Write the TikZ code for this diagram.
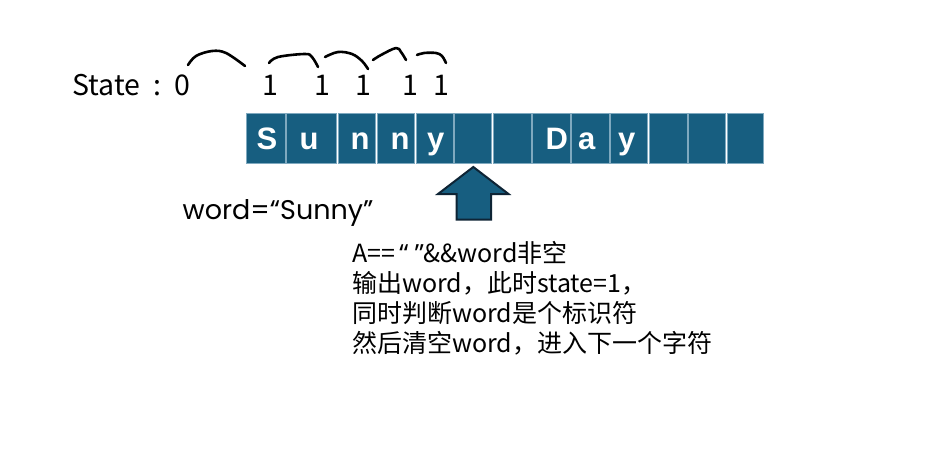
\documentclass[tikz,border=0pt]{standalone}
\usepackage{fontspec}
\newfontfamily\cjk{Noto Sans CJK SC}
\newfontfamily\latinsans{Noto Sans}
\newfontfamily\geo{Poppins}
\newfontfamily\cellfont{Liberation Sans}
\definecolor{cellblue}{HTML}{175E80}
\definecolor{celledge}{HTML}{7FA9BF}
\definecolor{arrowedge}{HTML}{0E2435}
\tikzset{
  cellbox/.style={fill=cellblue, draw=celledge, line width=0.8pt},
  celltxt/.style={anchor=base, text=white, inner sep=0pt, font=\cellfont\bfseries\fontsize{31}{31}\selectfont},
  statetxt/.style={anchor=base, inner sep=0pt, font=\cjk\fontsize{28.5}{28.5}\selectfont},
  infotxt/.style={anchor=base west, inner sep=0pt, font=\cjk\fontsize{25}{25}\selectfont},
  hand/.style={line width=2.6pt, line cap=round, line join=round},
}
\begin{document}
\begin{tikzpicture}[x=1pt,y=-1pt]
\useasboundingbox (0,0) rectangle (927,461);
\fill[white] (0,0) rectangle (927,461);
% cells
\foreach \a/\b/\n in {246.7/285.6/c1, 286.8/336.7/c2, 338/375.6/c3, 377/414.5/c4, 415.9/453.1/c5, 454.5/491.7/c6, 493/531/c7, 532.3/569.9/c8, 571.2/609.1/c9, 610.5/647.7/c10, 649/686.9/c11, 687.9/725.5/c12, 727/763.7/c13}{
  \draw[cellbox] (\a,113.5) rectangle (\b,163.5);
}
\node[celltxt] (tS) at (267,149.3) {S};
\node[celltxt] (tu) at (309,149.3) {u};
\node[celltxt] (tn1) at (360,149.3) {n};
\node[celltxt] (tn2) at (400,149.3) {n};
\node[celltxt] (ty1) at (435.8,149.3) {y};
\node[celltxt] (tD) at (556.7,149.3) {D};
\node[celltxt] (ta) at (586.7,149.3) {a};
\node[celltxt] (ty2) at (626.7,149.3) {y};
% state line
\node[statetxt, anchor=base west] (state) at (72,95.5) {State\kern13pt:};
\node[statetxt] (s0) at (182.5,95.5) {0};
\node[statetxt] (s1) at (270.5,95.5) {1};
\node[statetxt] (s2) at (322.3,95.5) {1};
\node[statetxt] (s3) at (363.3,95.5) {1};
\node[statetxt] (s4) at (410,95.5) {1};
\node[statetxt] (s5) at (441.5,95.5) {1};
% hand-drawn arcs
\draw[hand] plot[smooth, tension=0.6] coordinates {(188,65) (196,56) (212,51) (226,53) (245,66)};
\draw[hand] plot[smooth, tension=0.6] coordinates {(269,63) (278,57) (305,54) (312,57) (318,67)};
\draw[hand] plot[smooth, tension=0.6] coordinates {(325,57) (338,52) (352,54) (362,61) (368,69)};
\draw[hand] plot[smooth, tension=0.6] coordinates {(373,60) (381,55) (396,48) (401,52) (406,60)};
\draw[hand] plot[smooth, tension=0.6] coordinates {(417,55) (424,53) (436,53) (442,56) (446,63)};
% arrow
\draw[fill=cellblue, draw=arrowedge, line width=2pt, line join=miter]
  (473.3,167) -- (508.5,194) -- (491,194) -- (491,219.5) -- (456.5,219.5) -- (456.5,194) -- (438,194) -- cycle;
% word
\node[anchor=base west, inner sep=0pt, font=\geo\fontsize{27}{27}\selectfont] (word) at (182.5,219.5) {word=“Sunny”};
% info lines
\node[infotxt] (l1) at (352,262.5) {A==\,{\latinsans“\ ”}\&\&word非空};
\node[infotxt] (l2) at (352,292.5) {输出word，此时state=1，};
\node[infotxt] (l3) at (352,322.5) {同时判断word是个标识符};
\node[infotxt] (l4) at (352,352.5) {然后清空word，进入下一个字符};
\end{tikzpicture}
\end{document}
